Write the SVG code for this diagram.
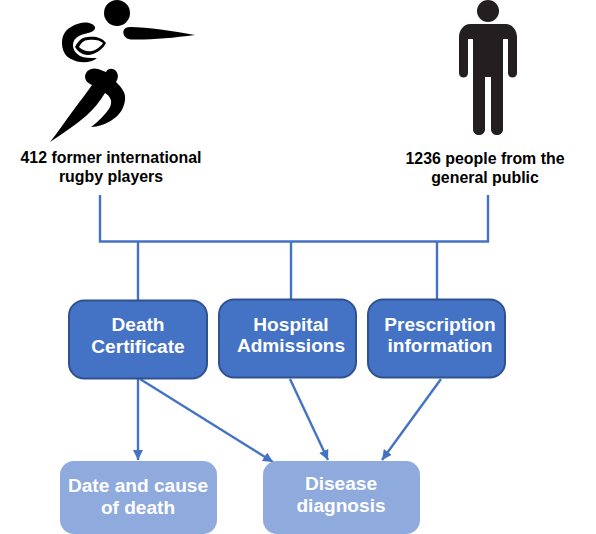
<svg xmlns="http://www.w3.org/2000/svg" width="596" height="534" viewBox="0 0 596 534">
<style>
text{font-family:"Liberation Sans",Arial,sans-serif;font-weight:bold;text-anchor:middle}
.cap{font-size:15.9px;fill:#000}
.lbl{font-size:19.1px;fill:#fff}
.dark{fill:#4472c4;stroke:#2f528f;stroke-width:2}
.light{fill:#8faadc}
.c{fill:none;stroke:#4472c4;stroke-width:2.4}
.k{fill:#231f20}
.b{fill:#000}
</style>
<defs><marker id="a" markerUnits="userSpaceOnUse" markerWidth="12" markerHeight="10" refX="10" refY="5" orient="auto"><path d="M0 0L10 5L0 10z" fill="#4472c4"/></marker></defs>
<rect width="596" height="534" fill="#fff"/>
<g id="rugby-icon">
<circle class="b" cx="117" cy="13" r="13"/>
<path class="b" d="M130 27C148 27 172 31 195 35C172 38 150 40 131 39.500C122 39 120 27 130 27z"/>
<path class="b" d="M95 27C92 21 80 21 71 27C64 31 62 37 62 43C62 51 66 57 71 59C78 63 90 64 97 58C90 58 84 58 80 56C75 53 73 49 73 45C73 41 75 38 79 36C84 33 96 33 95 27z"/>
<path class="b" fill-rule="evenodd" d="M75 47C78 41 82 37 88 37C94 36 102 37 106 43C103 49 98 52 93 54C87 56 80 55 75 47zM79 47C82 50 87 52 92 51C97 50 101 46 103 43C100 40 94 39 88 40C84 40 81 43 79 47z"/>
<path class="b" d="M85 76C86 70 92 67 98 69C101 70 103 71 106 72C108 68 113 68 116 71C119 75 118 79 116 82C122 88 126 93 125 100C124 108 120 115 112 120C106 124 98 127 91 127C98 122 106 114 110 107C113 101 110 96 105 93C100 101 94 109 86 116C74 126 62 134 50 142C58 132 66 120 75 108C81 100 87 92 92 85C88 83 85 81 85 76z"/>
</g>
<g id="person-icon">
<circle class="k" cx="488" cy="11" r="11"/>
<path class="k" d="M470 24H506C512 24 517 30 517 37V73C517 79 508 79 508 73V39H503V129C503 137 491 137 491 129V77H485V129C485 137 473 137 473 129V39H468V73C468 79 459 79 459 73V37C459 30 464 24 470 24z"/>
</g>
<g id="rugby-label"><text class="cap" x="111" y="163">412 former international</text><text class="cap" x="111" y="182">rugby players</text></g>
<g id="public-label"><text class="cap" x="485" y="164">1236 people from the</text><text class="cap" x="485" y="183">general public</text></g>
<g id="connectors">
<path class="c" d="M100 195V241.500H488V195M138 241.500V300M291 241.500V299M437 241.500V299"/>
<path class="c" marker-end="url(#a)" d="M138 379V460"/>
<path class="c" marker-end="url(#a)" d="M140 379L273 462"/>
<path class="c" marker-end="url(#a)" d="M290 379L328 460"/>
<path class="c" marker-end="url(#a)" d="M441 379L382 460"/>
</g>
<g id="death-certificate"><rect class="dark" x="69" y="300.500" width="138" height="78" rx="15"/><text class="lbl" x="138" y="330.500">Death</text><text class="lbl" x="138" y="352.500">Certificate</text></g>
<g id="hospital-admissions"><rect class="dark" x="219" y="299.500" width="137" height="78" rx="15"/><text class="lbl" x="291" y="330.500">Hospital</text><text class="lbl" x="291" y="351.500">Admissions</text></g>
<g id="prescription-information"><rect class="dark" x="368" y="299.500" width="137" height="78" rx="15"/><text class="lbl" x="440" y="330.500">Prescription</text><text class="lbl" x="440" y="351.500">information</text></g>
<g id="date-cause-death"><rect class="light" x="60" y="461" width="157" height="73" rx="14"/><text class="lbl" x="138" y="491.500">Date and cause</text><text class="lbl" x="138" y="513.500">of death</text></g>
<g id="disease-diagnosis"><rect class="light" x="263" y="461" width="157" height="73" rx="14"/><text class="lbl" x="341" y="489.500">Disease</text><text class="lbl" x="341" y="511.500">diagnosis</text></g>
</svg>
